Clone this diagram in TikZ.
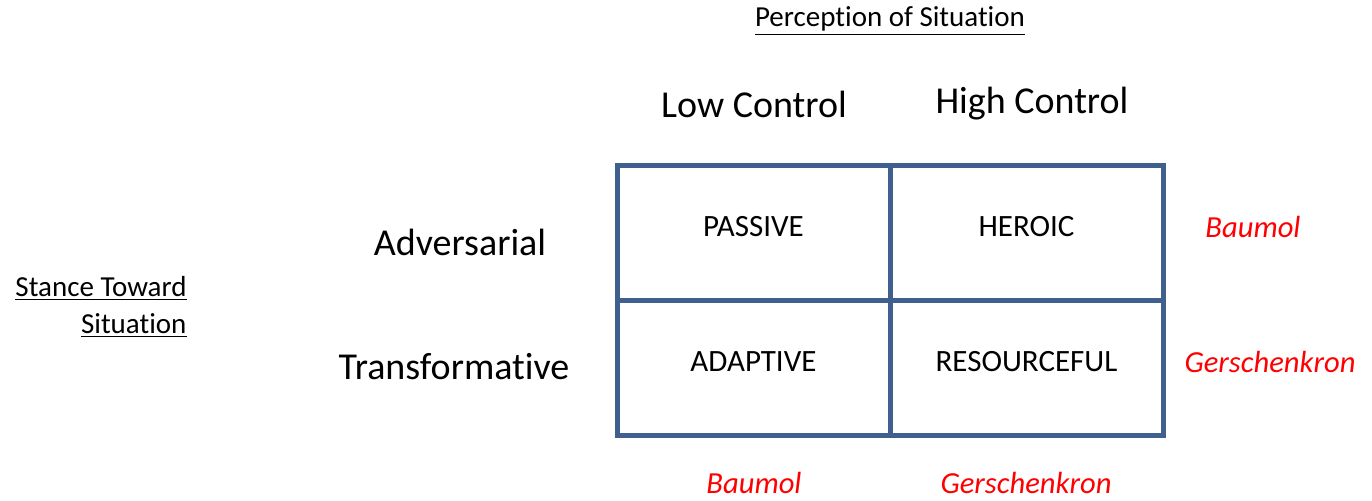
\documentclass[tikz,border=0pt]{standalone}
\usepackage{fontspec}
\setmainfont[Ligatures=CommonOff]{Carlito}
\usetikzlibrary{positioning}
\definecolor{gridblue}{HTML}{3F5F8F}
\tikzset{
  cell/.style={draw=gridblue, line width=2.5pt, minimum width=136.5pt, minimum height=67.5pt,
    inner sep=0pt},
  celltext/.style={yshift=3.2pt, font=\fontsize{15.5}{18}\selectfont},
  heading/.style={font=\fontsize{19}{23}\selectfont},
  title/.style={font=\fontsize{14.5}{18.5}\selectfont},
  author/.style={text=red, font=\fontsize{15.3}{18}\selectfont\itshape}
}
\begin{document}
\begin{tikzpicture}[x=0.5pt, y=-0.5pt]
  \useasboundingbox (0,0) rectangle (1372,500);
  % the four quadrants
  \node[cell, label={[celltext]center:PASSIVE}] (pas) at (753.5,232.5) {};
  \node[cell, label={[celltext]center:HEROIC}] (her) at (1026.5,232.5) {};
  \node[cell, label={[celltext]center:ADAPTIVE}] (ada) at (753.5,368) {};
  \node[cell, label={[celltext]center:RESOURCEFUL}] (res) at (1026.5,368) {};
  % headings
  \node[title] (per) at (890,21) {\underline{Perception of Situation}};
  \node[heading] (low) at (754,104) {Low Control};
  \node[heading] (high) at (1032,104) {High Control};
  \node[heading] (adv) at (460,242) {Adversarial};
  \node[heading] (tra) at (454,367) {Transformative};
  \node[title, align=right] (sta) at (101,307) {\underline{Stance Toward}\\\underline{Situation}};
  % authors
  \node[author] (bau1) at (1253,227) {Baumol};
  \node[author] (ger1) at (1270,362) {Gerschenkron};
  \node[author] (bau2) at (754,483) {Baumol};
  \node[author] (ger2) at (1026,483) {Gerschenkron};
\end{tikzpicture}
\end{document}
